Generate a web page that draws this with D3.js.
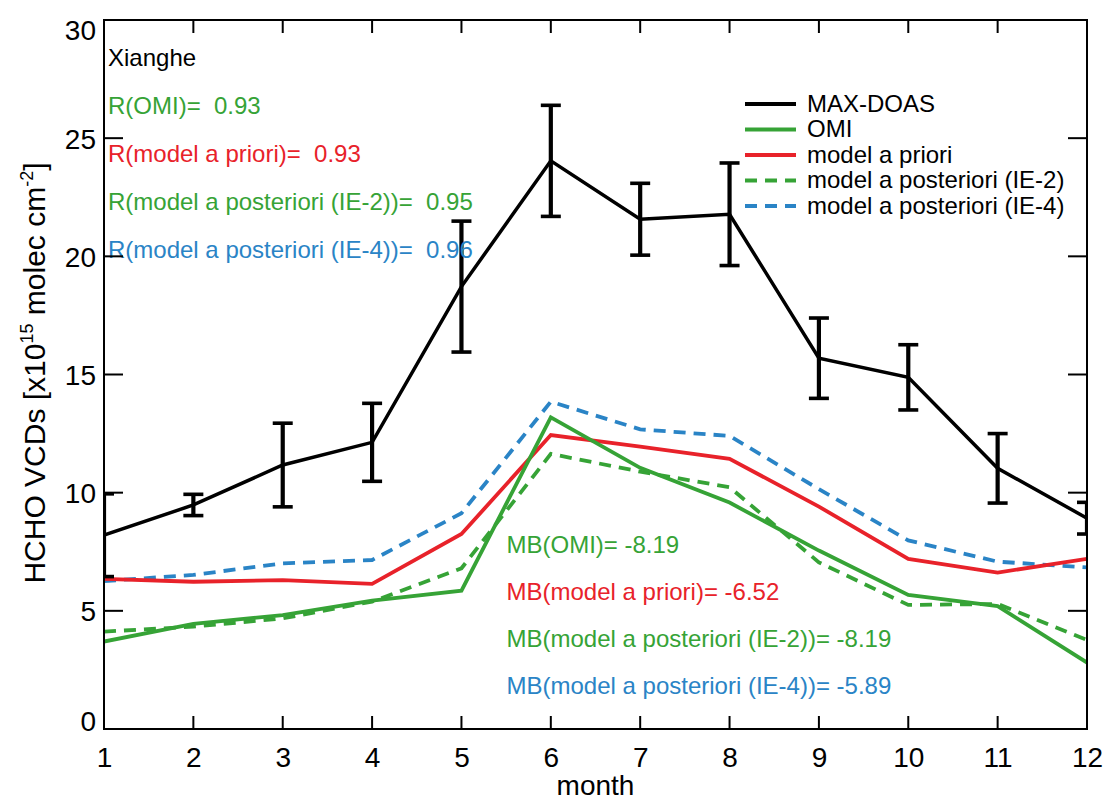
<!DOCTYPE html>
<html>
<head>
<meta charset="utf-8">
<script src="https://cdn.jsdelivr.net/npm/d3@7"></script>
<style>
  html, body { margin: 0; padding: 0; background: #fff; }
  svg { display: block; font-family: "Liberation Sans", Arial, Helvetica, sans-serif; }
</style>
</head>
<body>
<svg id="chart" width="1107" height="801"></svg>
<script>
// Monthly mean HCHO vertical column densities at Xianghe (x1e15 molec cm-2)
const months = [1, 2, 3, 4, 5, 6, 7, 8, 9, 10, 11, 12];
const maxdoas     = [8.2, 9.48, 11.17, 12.13, 18.72, 24.04, 21.57, 21.78, 15.69, 14.88, 11.03, 8.92];
const maxdoasErr  = [1.75, 0.45, 1.77, 1.65, 2.77, 2.35, 1.52, 2.17, 1.70, 1.38, 1.47, 0.67];
const omi         = [3.70, 4.45, 4.82, 5.43, 5.85, 13.19, 11.05, 9.58, 7.55, 5.67, 5.20, 2.81];
const modelPrior  = [6.35, 6.23, 6.30, 6.14, 8.25, 12.44, 11.95, 11.43, 9.41, 7.20, 6.62, 7.20];
const modelIE2    = [4.12, 4.33, 4.68, 5.39, 6.80, 11.64, 10.89, 10.23, 7.05, 5.25, 5.29, 3.77];
const modelIE4    = [6.26, 6.52, 7.01, 7.15, 9.13, 13.85, 12.68, 12.40, 10.15, 7.98, 7.08, 6.84];

const yTicks = [0, 5, 10, 15, 20, 25, 30];

// Correlation coefficients and mean biases against MAX-DOAS
const rLabels  = ["R(OMI)=  0.93", "R(model a priori)=  0.93",
                  "R(model a posteriori (IE-2))=  0.95", "R(model a posteriori (IE-4))=  0.96"];
const mbLabels = ["MB(OMI)= -8.19", "MB(model a priori)= -6.52",
                  "MB(model a posteriori (IE-2))= -8.19", "MB(model a posteriori (IE-4))= -5.89"];
const legendNames = ["MAX-DOAS", "OMI", "model a priori",
                     "model a posteriori (IE-2)", "model a posteriori (IE-4)"];

const BLACK = "#000000", GREEN = "#36a336", RED = "#e8222a", BLUE = "#2a84c6";

const series = [
  { values: maxdoas,    color: BLACK, dash: null,   width: 3.5 },
  { values: omi,        color: GREEN, dash: null,   width: 3.8 },
  { values: modelPrior, color: RED,   dash: null,   width: 3.8 },
  { values: modelIE2,   color: GREEN, dash: "12,8", width: 3.8 },
  { values: modelIE4,   color: BLUE,  dash: "12,8", width: 3.8 }
];

const svg = d3.select("#chart");
const plotLeft = 104, plotRight = 1087, plotTop = 20, plotBottom = 729;

const x = d3.scaleLinear().domain([1, 12]).range([plotLeft, plotRight]);
const y = d3.scaleLinear().domain([0, 30]).range([plotBottom, plotTop]);

svg.append("defs").append("clipPath").attr("id", "plotClip")
  .append("rect").attr("x", plotLeft).attr("y", plotTop)
  .attr("width", plotRight - plotLeft).attr("height", plotBottom - plotTop);

const plot = svg.append("g").attr("clip-path", "url(#plotClip)");

// series lines, drawn back to front
const line = d3.line().x((d, i) => x(months[i])).y(d => y(d));
[...series].reverse().forEach(s => {
  plot.append("path")
    .attr("d", line(s.values))
    .attr("fill", "none")
    .attr("stroke", s.color)
    .attr("stroke-width", s.width)
    .attr("stroke-dasharray", s.dash)
    .attr("stroke-linejoin", "miter");
});

// MAX-DOAS error bars
const capHalf = 10;
const eb = plot.append("g").attr("stroke", BLACK).attr("stroke-width", 4.2).attr("fill", "none");
months.forEach((m, i) => {
  const cx = x(m), hi = y(maxdoas[i] + maxdoasErr[i]), lo = y(maxdoas[i] - maxdoasErr[i]);
  eb.append("line").attr("x1", cx).attr("x2", cx).attr("y1", hi).attr("y2", lo);
  eb.append("line").attr("x1", cx - capHalf).attr("x2", cx + capHalf).attr("y1", hi).attr("y2", hi)
    .attr("stroke-width", 3.6);
  eb.append("line").attr("x1", cx - capHalf).attr("x2", cx + capHalf).attr("y1", lo).attr("y2", lo)
    .attr("stroke-width", 3.6);
});

// station name and statistics
const ann = svg.append("g").attr("font-size", 24);
ann.append("text").attr("x", 108).attr("y", 65.5).attr("fill", BLACK).text("Xianghe");
const rColors = [GREEN, RED, GREEN, BLUE];
rLabels.forEach((t, i) => {
  ann.append("text").attr("x", 108).attr("y", 113.5 + i * 48.3)
    .attr("fill", rColors[i]).style("white-space", "pre").text(t);
});
mbLabels.forEach((t, i) => {
  ann.append("text").attr("x", 506.5).attr("y", 552.5 + i * 47.2)
    .attr("fill", rColors[i]).text(t);
});

// legend
const lg = svg.append("g").attr("font-size", 24);
series.forEach((s, i) => {
  const ly = 104 + i * 25.5;
  lg.append("line").attr("x1", 745).attr("x2", 796).attr("y1", ly).attr("y2", ly)
    .attr("stroke", s.color).attr("stroke-width", 4).attr("stroke-dasharray", s.dash);
  lg.append("text").attr("x", 807).attr("y", ly + 7.8).attr("fill", BLACK).text(legendNames[i]);
});

// frame with ticks on all four sides
const axes = svg.append("g");
const frame = axes.append("g").attr("stroke", BLACK).attr("stroke-width", 2);
frame.append("rect").attr("x", plotLeft).attr("y", plotTop).attr("width", plotRight - plotLeft)
  .attr("height", plotBottom - plotTop).attr("fill", "none");
months.forEach(m => {
  frame.append("line").attr("x1", x(m)).attr("x2", x(m)).attr("y1", plotBottom).attr("y2", plotBottom - 13);
  frame.append("line").attr("x1", x(m)).attr("x2", x(m)).attr("y1", plotTop).attr("y2", plotTop + 13);
});
yTicks.forEach(v => {
  frame.append("line").attr("x1", plotLeft).attr("x2", plotLeft + 19).attr("y1", y(v)).attr("y2", y(v));
  frame.append("line").attr("x1", plotRight).attr("x2", plotRight - 19).attr("y1", y(v)).attr("y2", y(v));
});

// tick labels via d3 axes
const xAxisB = d3.axisBottom(x).tickValues(months).tickSize(0).tickPadding(0);
const gx = axes.append("g").attr("transform", `translate(0,${plotBottom})`).call(xAxisB);
gx.select(".domain").remove();
gx.selectAll("text").attr("font-size", 28).attr("fill", BLACK)
  .attr("font-family", "Liberation Sans, Arial, sans-serif")
  .attr("dy", null).attr("y", 37.5);

const yAxisL = d3.axisLeft(y).tickValues(yTicks).tickSize(0).tickPadding(8);
const gy = axes.append("g").attr("transform", `translate(${plotLeft},0)`).call(yAxisL);
gy.select(".domain").remove();
gy.selectAll("text").attr("font-size", 28).attr("fill", BLACK)
  .attr("font-family", "Liberation Sans, Arial, sans-serif")
  .attr("dy", null)
  .attr("y", d => {
    // keep the end labels inside the canvas edges
    const c = Math.min(Math.max(y(d), 29), 720.5);
    return c - y(d) + 10;
  });

// axis titles
svg.append("text").attr("x", (plotLeft + plotRight) / 2).attr("y", 795)
  .attr("text-anchor", "middle").attr("font-size", 28).text("month");

const yt = svg.append("text").attr("transform", "translate(45,373) rotate(-90)")
  .attr("text-anchor", "middle").attr("font-size", 30);
yt.append("tspan").text("HCHO VCDs [x10");
yt.append("tspan").attr("font-size", 18).attr("dy", -12).text("15");
yt.append("tspan").attr("dy", 12).text(" molec cm");
yt.append("tspan").attr("font-size", 18).attr("dy", -12).text("-2");
yt.append("tspan").attr("dy", 12).text("]");
</script>
</body>
</html>
